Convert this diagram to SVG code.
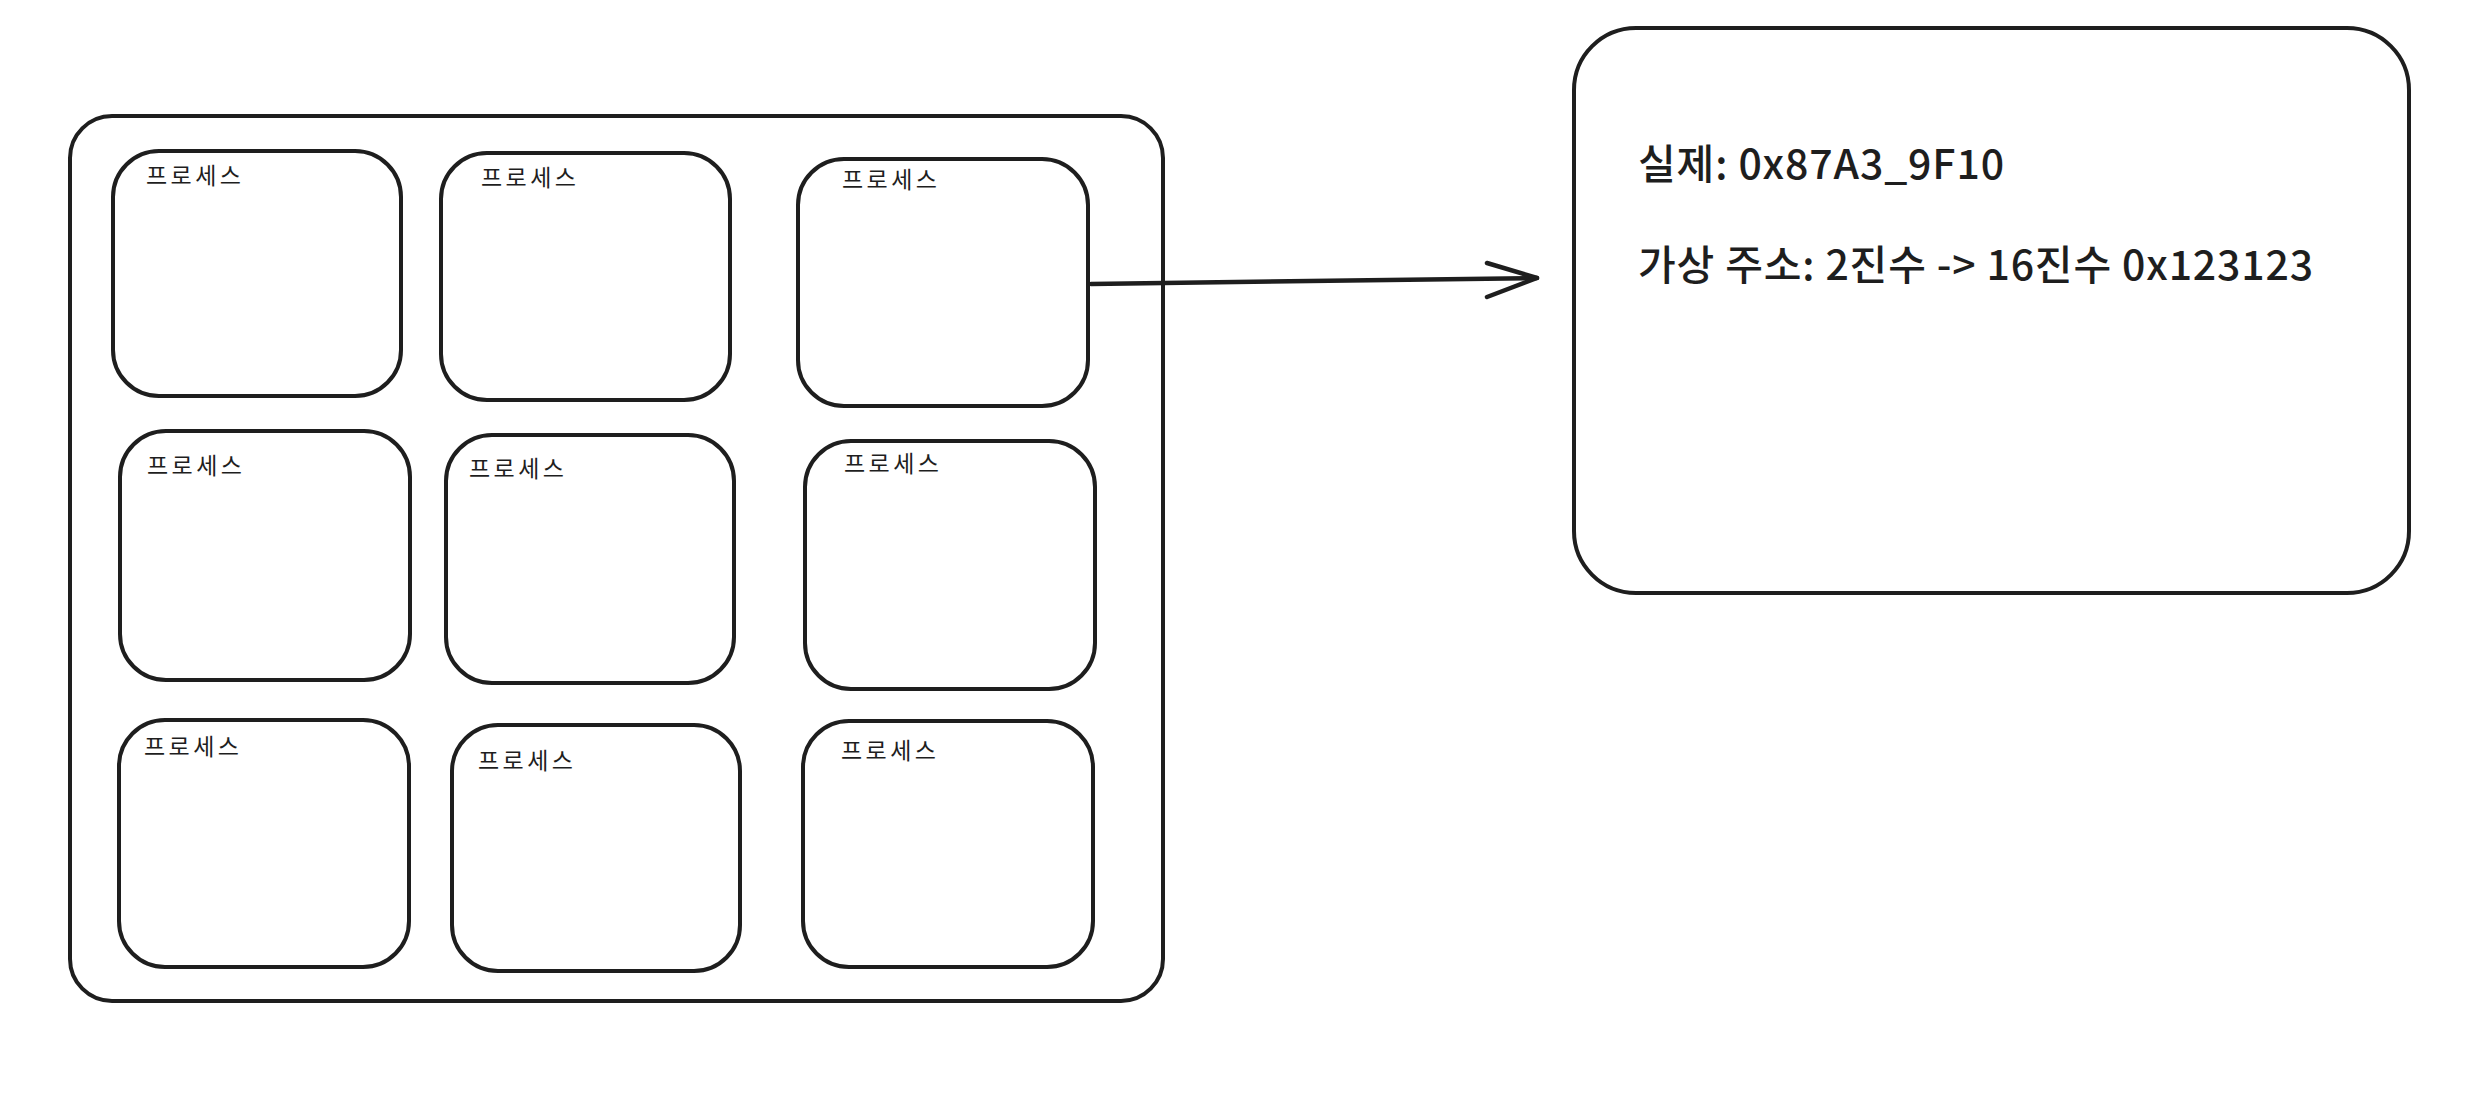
<svg xmlns="http://www.w3.org/2000/svg" width="2480" height="1108" viewBox="0 0 2480 1108">
<style>
.box{fill:#ffffff;stroke:#1e1e1e;stroke-width:4;}
.lbl{font-family:"Noto Sans CJK KR","Noto Sans",sans-serif;font-size:23px;fill:#1e1e1e;}
.big{font-family:"Noto Sans CJK KR","Noto Sans",sans-serif;font-size:41px;font-weight:500;fill:#1e1e1e;}
.conn{fill:none;stroke:#1e1e1e;stroke-width:4.5;stroke-linecap:round;stroke-linejoin:round;}
</style>
<rect width="2480" height="1108" fill="#ffffff"/>
<g id="container">
<rect class="box" x="70" y="116" width="1093" height="885" rx="42"/>
</g>
<g id="process-1"><rect class="box" x="113" y="151" width="288" height="245" rx="46"/><text class="lbl" x="146" y="184" textLength="95">프로세스</text></g>
<g id="process-2"><rect class="box" x="441" y="153" width="289" height="247" rx="46"/><text class="lbl" x="481" y="186" textLength="95">프로세스</text></g>
<g id="process-3"><rect class="box" x="798" y="159" width="290" height="247" rx="46"/><text class="lbl" x="842" y="188" textLength="95">프로세스</text></g>
<g id="process-4"><rect class="box" x="120" y="431" width="290" height="249" rx="46"/><text class="lbl" x="147" y="474" textLength="95">프로세스</text></g>
<g id="process-5"><rect class="box" x="446" y="435" width="288" height="248" rx="46"/><text class="lbl" x="469" y="477" textLength="95">프로세스</text></g>
<g id="process-6"><rect class="box" x="805" y="441" width="290" height="248" rx="46"/><text class="lbl" x="844" y="472" textLength="95">프로세스</text></g>
<g id="process-7"><rect class="box" x="119" y="720" width="290" height="247" rx="46"/><text class="lbl" x="144" y="755" textLength="95">프로세스</text></g>
<g id="process-8"><rect class="box" x="452" y="725" width="288" height="246" rx="46"/><text class="lbl" x="478" y="769" textLength="95">프로세스</text></g>
<g id="process-9"><rect class="box" x="803" y="721" width="290" height="246" rx="46"/><text class="lbl" x="841" y="759" textLength="95">프로세스</text></g>
<g id="address-box">
<rect class="box" x="1574" y="28" width="835" height="565" rx="62"/>
<text class="big" x="1638" y="179" textLength="366">실제: 0x87A3_9F10</text>
<text class="big" x="1638" y="280" textLength="675">가상 주소: 2진수 -&gt; 16진수 0x123123</text>
</g>
<g id="connectors">
<path class="conn" d="M1091 284 L1537 278"/>
<path class="conn" d="M1487 263 L1537 278 L1487 297"/>
</g>
</svg>
